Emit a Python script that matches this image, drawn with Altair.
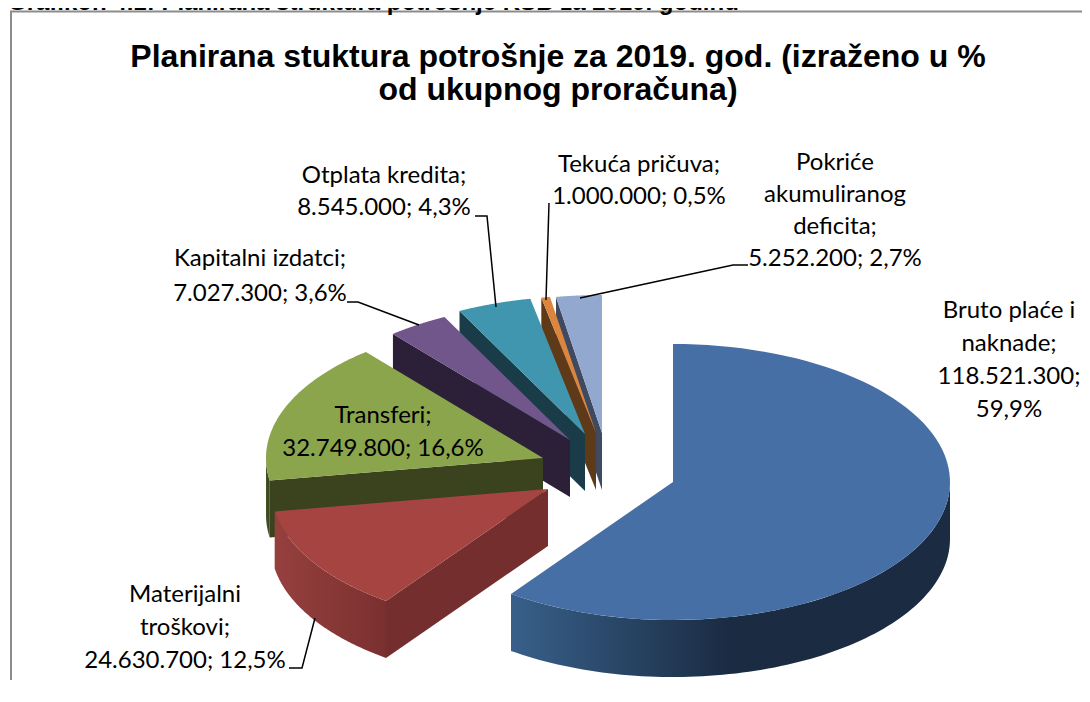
import math
import altair as alt
import pandas as pd

# --- data ---
categories = ["Bruto plaće i naknade", "Materijalni troškovi", "Transferi", "Kapitalni izdatci",
              "Otplata kredita", "Tekuća pričuva", "Pokriće akumuliranog deficita"]
values = [118521300, 24630700, 32749800, 7027300, 8545000, 1000000, 5252200]
chart_title = ["Planirana stuktura potrošnje za 2019. god. (izraženo u %", "od ukupnog proračuna)"]
caption = "Grafikon 4.1: Planirana struktura potrošnje KSB za 2019. godinu"
label_lines = [
    ["Bruto plaće i", "naknade;", "118.521.300;", "59,9%"],
    ["Materijalni", "troškovi;", "24.630.700; 12,5%"],
    ["Transferi;", "32.749.800; 16,6%"],
    ["Kapitalni izdatci;", "7.027.300; 3,6%"],
    ["Otplata kredita;", "8.545.000; 4,3%"],
    ["Tekuća pričuva;", "1.000.000; 0,5%"],
    ["Pokriće", "akumuliranog", "deficita;", "5.252.200; 2,7%"],
]

# --- layout (page pixels) ---
M = 8
W, H = 1074, 686
RX, RY, DEPTH = 277, 138, 57
apex = [(673, 482), (548, 489), (543, 458), (570, 440), (585, 434), (596, 433), (602, 433)]
label_pos = [(1009, 311), (185, 595), (383, 416), (260, 259), (384, 176), (639, 165), (835, 163)]
line_h = [33, 33, 33, 35, 32, 32, 32]
top_col = ["#466FA5", "#A64442", "#8AA54C", "#71568C", "#4096AE", "#DC853E", "#93A8CF"]
face_col = ["#1B2C44", "#732E2D", "#3A421E", "#2B2038", "#1A3C48", "#5E3A18", "#3F4A60"]
rim_col = [("#38608A", "#1A2B42"), ("#96403E", "#7A302F"), ("#465224", "#3A421E"),
           ("#2B2038", "#2B2038"), ("#1A3C48", "#1A3C48"), ("#5E3A18", "#5E3A18"), ("#3F4A60", "#3F4A60")]
leaders = [
    [(347, 302), (358, 302), (419, 325)],
    [(475, 216), (487, 216), (496, 307)],
    [(549, 203), (546, 300)],
    [(748, 265), (733, 265), (580, 298)],
    [(289, 668), (302, 668), (315, 618)],
]

xs = alt.X("x:Q", scale=alt.Scale(domain=[0, W], nice=False, zero=False), axis=None)
ys = alt.Y("y:Q", scale=alt.Scale(domain=[H, 0], nice=False, zero=False), axis=None)


def pt(c, a, dz=0):
    r = math.radians(a)
    return (c[0] + RX * math.sin(r), c[1] - RY * math.cos(r) + dz)


def poly(points, fill):
    df = pd.DataFrame([{"x": x - M, "y": y - M, "i": i} for i, (x, y) in enumerate(points)])
    return alt.Chart(df).mark_line(fill=fill, stroke=None, strokeWidth=0, interpolate="linear").encode(
        x=xs, y=ys, order=alt.Order("i:Q"))


total = sum(values)
bounds = [0]
for v in values:
    bounds.append(bounds[-1] + v / total * 360)

wedges = {}
for k in range(len(values)):
    c, a0, a1 = apex[k], bounds[k], bounds[k + 1]
    parts = []
    arc = [a0 + (a1 - a0) * j / 90 for j in range(91)]
    # the cut face on the near side
    if a0 > 180:
        o = pt(c, a0)
        parts.append(poly([c, o, (o[0], o[1] + DEPTH), (c[0], c[1] + DEPTH), c], face_col[k]))
    # outer rim, only the part facing the viewer
    lo, hi = max(a0, 90), min(a1, 270)
    if hi > lo:
        seg = [lo + (hi - lo) * j / 90 for j in range(91)]
        pts = [pt(c, a) for a in seg] + [pt(c, a, DEPTH) for a in reversed(seg)]
        pts.append(pts[0])
        # the rim lightens towards the left of the picture
        mid = 0.5 if k == 0 else 1
        fill = alt.Gradient(gradient="linear", x1=0, y1=0, x2=1, y2=0, stops=[
            alt.GradientStop(color=rim_col[k][0], offset=0),
            alt.GradientStop(color=rim_col[k][1], offset=mid),
            alt.GradientStop(color=rim_col[k][1], offset=1)])
        parts.append(poly(pts, fill))
    parts.append(poly([c] + [pt(c, a) for a in arc] + [c], top_col[k]))
    wedges[k] = parts

layers = []
# frame
frame = pd.DataFrame({"x": [11 - M, 11 - M, W], "y": [680 - M, 11.5 - M, 11.5 - M], "i": [0, 1, 2]})
layers.append(alt.Chart(frame).mark_line(color="#8C8C8C", strokeWidth=2).encode(x=xs, y=ys, order=alt.Order("i:Q")))
# wedges, back to front
for k in [6, 5, 4, 3, 2, 1, 0]:
    layers.extend(wedges[k])
# leader lines
for n, line in enumerate(leaders):
    df = pd.DataFrame([{"x": x - M, "y": y - M, "i": i} for i, (x, y) in enumerate(line)])
    layers.append(alt.Chart(df).mark_line(color="#000000", strokeWidth=1.5).encode(x=xs, y=ys, order=alt.Order("i:Q")))
# data labels
rows = []
for k, lines in enumerate(label_lines):
    for j, t in enumerate(lines):
        rows.append({"x": label_pos[k][0] - M, "y": label_pos[k][1] + j * line_h[k] - M, "t": t})
layers.append(alt.Chart(pd.DataFrame(rows)).mark_text(font="Lato", fontSize=24, color="#000000", baseline="middle", align="center").encode(x=xs, y=ys, text="t:N"))
# chart title
tdf = pd.DataFrame({"x": [558 - M, 558 - M], "y": [57 - M, 90 - M], "t": chart_title})
layers.append(alt.Chart(tdf).mark_text(font="Liberation Sans", fontWeight="bold", fontSize=32, color="#000000", baseline="middle", align="center").encode(x=xs, y=ys, text="t:N"))
# caption, cut by the top edge as in the reference
cdf = pd.DataFrame({"x": [0], "y": [2], "t": [caption]})
layers.append(alt.Chart(cdf).mark_text(font="Liberation Sans", fontWeight="bold", fontSize=24, color="#000000", baseline="alphabetic", align="left").encode(x=xs, y=ys, text="t:N"))

chart = alt.layer(*layers).properties(
    width=W, height=H, padding=0, autosize=alt.AutoSizeParams(type="none"), background="#FFFFFF"
).configure_view(stroke=None)

chart.save("out.html", embed_options={"renderer": "svg", "actions": False})
